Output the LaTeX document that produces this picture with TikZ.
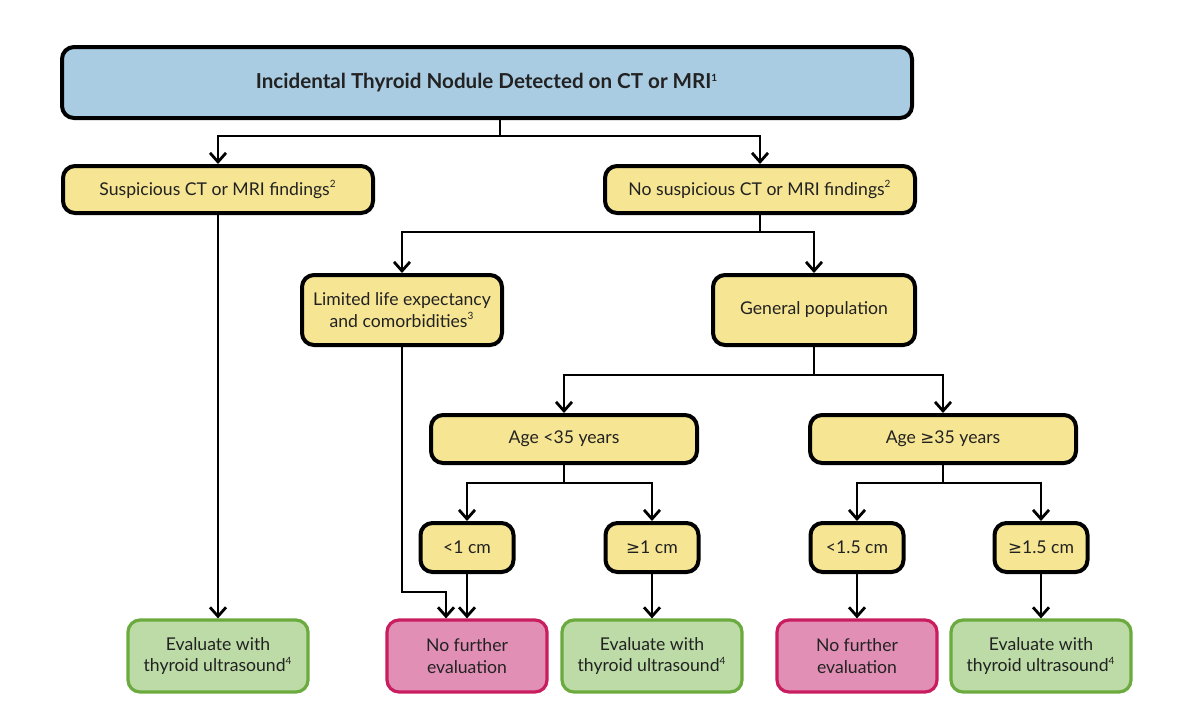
\documentclass[tikz,border=0pt]{standalone}
\usepackage{fontspec}
\setmainfont{Lato}
\newfontfamily\symfont[Scale=0.95]{DejaVu Sans}
\usetikzlibrary{arrows.meta,positioning}
\definecolor{titleblue}{HTML}{A9CCE3}
\definecolor{choiceyellow}{HTML}{F6E592}
\definecolor{evalgreen}{HTML}{BCDBA6}
\definecolor{evalgreendark}{HTML}{6BAA3E}
\definecolor{stoppink}{HTML}{E28FB6}
\definecolor{stoppinkdark}{HTML}{C81D5E}
\definecolor{inktext}{HTML}{222222}
\newcommand{\geqsym}{{\symfont ≥}}
\newcommand{\note}[1]{\textsuperscript{\fontsize{5}{5}\selectfont #1}}
\tikzset{>={Straight Barb[length=4.5pt,width=8pt]}}
\tikzset{
  basebox/.style={rectangle, rounded corners=6pt, align=center, inner sep=2pt,
    text=inktext, font=\fontsize{8.8}{10.8}\selectfont},
  titlebox/.style={basebox, draw=black, line width=2pt, fill=titleblue,
    minimum width=425pt, minimum height=35.5pt,
    font=\fontsize{10.3}{12}\selectfont\bfseries},
  choicebox/.style={basebox, draw=black, line width=2pt, fill=choiceyellow},
  evalbox/.style={basebox, draw=evalgreendark, line width=1.6pt, fill=evalgreen,
    minimum width=90pt, minimum height=36pt},
  stopbox/.style={basebox, draw=stoppinkdark, line width=1.6pt, fill=stoppink,
    minimum width=80pt, minimum height=36pt},
  flow/.style={->, line width=1.4pt},
  trunk/.style={line width=1.4pt},
}
\begin{document}
\begin{tikzpicture}[x=0.5pt, y=-0.5pt]
  \useasboundingbox (0,0) rectangle (1193,708);
  % boxes
  \node[titlebox] (title) at (487,82.5) {Incidental Thyroid Nodule Detected on CT or MRI\note{1}};
  \node[choicebox, minimum width=155pt, minimum height=23.5pt] (susp) at (218,189.5) {Suspicious CT or MRI findings\note{2}};
  \node[choicebox, minimum width=155pt, minimum height=23.5pt] (nosusp) at (760,189.5) {No suspicious CT or MRI findings\note{2}};
  \node[choicebox, minimum width=100pt, minimum height=35pt] (limited) at (402,310) {Limited life expectancy\\and comorbidities\note{3}};
  \node[choicebox, minimum width=101pt, minimum height=35pt] (general) at (814,310) {General population};
  \node[choicebox, minimum width=133pt, minimum height=24pt] (young) at (564,439) {Age <35 years};
  \node[choicebox, minimum width=133pt, minimum height=24pt] (old) at (943,439) {Age \geqsym35 years};
  \node[choicebox, minimum width=46.5pt, minimum height=24.5pt] (small1) at (467,547.5) {<1 cm};
  \node[choicebox, minimum width=46.5pt, minimum height=24.5pt] (big1) at (652,547.5) {\geqsym1 cm};
  \node[choicebox, minimum width=46.5pt, minimum height=24.5pt] (small2) at (857,547.5) {<1.5 cm};
  \node[choicebox, minimum width=46.5pt, minimum height=24.5pt] (big2) at (1041,547.5) {\geqsym1.5 cm};
  \node[evalbox] (evalA) at (218,656) {Evaluate with\\thyroid ultrasound\note{4}};
  \node[stopbox] (noA) at (467,656) {No further\\evaluation};
  \node[evalbox] (evalB) at (652,656) {Evaluate with\\thyroid ultrasound\note{4}};
  \node[stopbox] (noB) at (857,656) {No further\\evaluation};
  \node[evalbox] (evalC) at (1041,656) {Evaluate with\\thyroid ultrasound\note{4}};
  % branch points
  \coordinate (split0) at (500,136);
  \coordinate (split1) at (760,232);
  \coordinate (split2) at (814,375);
  \coordinate (split3) at (564,483);
  \coordinate (split4) at (943,483);
  \coordinate (bend) at (446,592);
  % connectors
  \draw[trunk] (title.south -| split0) -- (split0);
  \draw[flow] (split0) -| (susp);
  \draw[flow] (split0) -| (nosusp);
  \draw[trunk] (nosusp) -- (split1);
  \draw[flow] (split1) -| (limited);
  \draw[flow] (split1) -| (general);
  \draw[trunk] (general) -- (split2);
  \draw[flow] (split2) -| (young);
  \draw[flow] (split2) -| (old);
  \draw[trunk] (young) -- (split3);
  \draw[flow] (split3) -| (small1);
  \draw[flow] (split3) -| (big1);
  \draw[trunk] (old) -- (split4);
  \draw[flow] (split4) -| (small2);
  \draw[flow] (split4) -| (big2);
  \draw[flow] (limited) |- (bend) -- (bend |- noA.north);
  \foreach \a/\b in {susp/evalA, small1/noA, big1/evalB, small2/noB, big2/evalC}
    \draw[flow] (\a) -- (\b);
\end{tikzpicture}
\end{document}
